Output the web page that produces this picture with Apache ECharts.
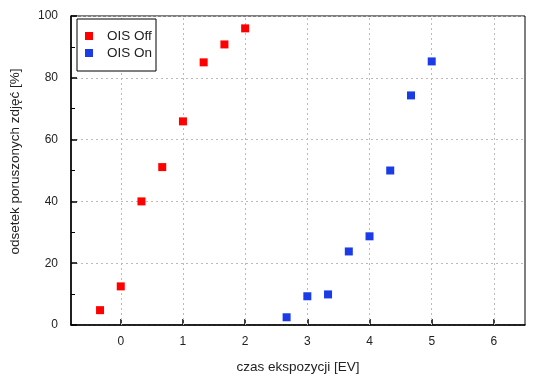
<!DOCTYPE html>
<html><head><meta charset="utf-8">
<script src="https://cdn.jsdelivr.net/npm/echarts@6/dist/echarts.min.js"></script>
<style>html,body{margin:0;padding:0;background:#fff}#c{width:550px;height:380px}</style>
</head><body><div id="c"></div>
<script>
var offX = [-0.333, 0, 0.333, 0.667, 1, 1.333, 1.667, 2];
var offY = [4.8, 12.5, 40, 51.1, 65.9, 85, 90.8, 96];
var onX = [2.667, 3, 3.333, 3.667, 4, 4.333, 4.667, 5];
var onY = [2.5, 9.3, 9.9, 23.8, 28.7, 50, 74.3, 85.3];
var xTicks = [0, 1, 2, 3, 4, 5, 6];
var seriesNames = ['OIS Off', 'OIS On'];
var xTitle = 'czas ekspozycji [EV]';
var yTitle = 'odsetek poruszonych zdjęć [%]';

function pairs(xs, ys){ return xs.map(function(x,i){return [x, ys[i]];}); }
var font = 'Liberation Sans, Arial, sans-serif';
var chart = echarts.init(document.getElementById('c'), null, {renderer:'canvas'});
chart.setOption({
  animation:false,
  backgroundColor:'#fff',
  grid:{left:69, right:25, top:16, bottom:55, show:true, borderColor:'#000', borderWidth:1},
  legend:{
    data:seriesNames, orient:'vertical', left:77, top:19,
    borderColor:'#000', borderWidth:1, padding:[10,4,11,8], backgroundColor:'#fff',
    itemWidth:8, itemHeight:8, itemGap:3, icon:'rect',
    textStyle:{fontFamily:font, fontSize:13.5, color:'#222', padding:[0,0,0,9]}
  },
  xAxis:{
    type:'value', min:-0.8, max:6.5,
    name:xTitle, nameLocation:'middle', nameGap:35,
    nameTextStyle:{fontFamily:font, fontSize:13.5, color:'#222'},
    axisLine:{show:true, onZero:false, lineStyle:{color:'#000', width:1.5}},
    axisTick:{show:true, inside:true, length:6, customValues:xTicks, lineStyle:{color:'#000', width:1.5}},
    axisLabel:{fontFamily:font, fontSize:12, color:'#222', margin:11, customValues:xTicks},
    splitLine:{show:false}
  },
  yAxis:{
    type:'value', min:0, max:100, interval:20,
    name:yTitle, nameLocation:'middle', nameGap:49,
    nameTextStyle:{fontFamily:font, fontSize:13.5, color:'#222', padding:[0,0,0,18]},
    axisLine:{show:true, onZero:false, lineStyle:{color:'#000', width:1.5}},
    axisTick:{show:true, inside:true, length:6, lineStyle:{color:'#000', width:1.5}},
    minorTick:{show:true, splitNumber:2, length:4, lineStyle:{color:'#000', width:1}},
    axisLabel:{fontFamily:font, fontSize:12, color:'#222', margin:13},
    splitLine:{show:true, lineStyle:{color:'#bbb', type:[2,3], width:1}}
  },
  series:[
    {name:seriesNames[0], type:'scatter', symbol:'rect', symbolSize:8, z:3,
     itemStyle:{color:'#ff0000', opacity:1}, data:pairs(offX, offY),
     markLine:{silent:true, symbol:'none', label:{show:false}, z:1,
       lineStyle:{color:'#bbb', type:[2,3], width:1},
       data:xTicks.map(function(v){return {xAxis:v};})}},
    {name:seriesNames[1], type:'scatter', symbol:'rect', symbolSize:8, z:3,
     itemStyle:{color:'#1a3be6', opacity:1}, data:pairs(onX, onY)}
  ]
});
</script></body></html>
